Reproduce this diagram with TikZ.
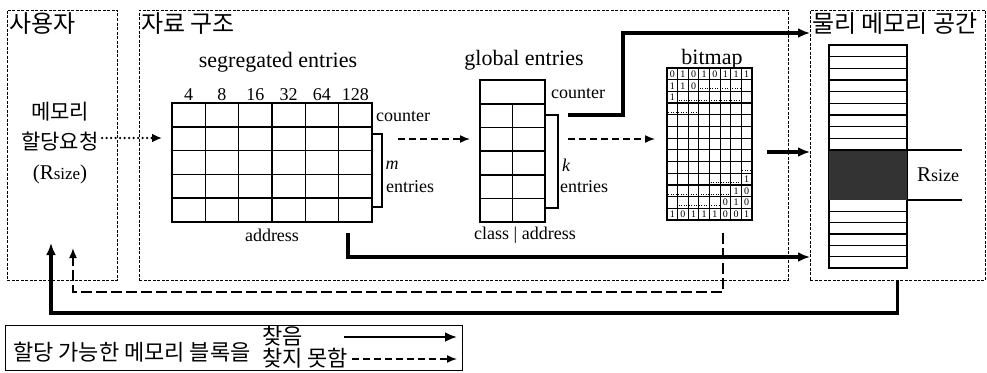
\documentclass[tikz,border=0pt]{standalone}
\usepackage{fontspec}
\setmainfont{Liberation Serif}
\newfontfamily\kr{Noto Sans CJK KR}
\usetikzlibrary{arrows.meta,calc}

\begin{document}
\begin{tikzpicture}[x=1pt,y=-1pt,
    area/.style={draw,line width=0.9pt,dash pattern=on 3pt off 1.5pt,outer sep=0pt},
    tbl/.style={draw,line width=1.6pt,outer sep=0pt},
    title/.style={font=\kr\fontsize{24}{26}\selectfont,inner sep=2pt},
    head/.style={font=\fontsize{22}{24}\selectfont},
    lbl/.style={font=\fontsize{18}{20}\selectfont,inner sep=1pt},
    bit/.style={font=\fontsize{10}{10}\selectfont,inner sep=0pt},
    hit/.style={line width=3.2pt,-{Latex[length=12pt,width=10pt]}},
    miss/.style={line width=1.5pt,dash pattern=on 7pt off 4pt,-{Latex[length=10pt,width=8pt]}},
    back/.style={line width=1.6pt,dash pattern=on 11pt off 4pt,-{Latex[length=10pt,width=8pt]}},
    req/.style={line width=2.6pt,line cap=round,dash pattern=on 0pt off 4.5pt,-{Latex[length=10pt,width=9pt]}}]
  \useasboundingbox (0,0) rectangle (987,372);

  % the three areas
  \node[area,minimum width=110pt,minimum height=270pt] (user) at (62,145) {};
  \node[area,minimum width=649pt,minimum height=270pt] (ds) at (463.5,145) {};
  \node[area,minimum width=175pt,minimum height=270pt] (phys) at (897.5,145) {};
  \node[title,anchor=north west] at (user.north west) {사용자};
  \node[title,anchor=north west] at (ds.north west) {자료 구조};
  \node[title,anchor=north west] at (phys.north west) {물리 메모리 공간};

  \node[font=\kr\fontsize{21}{30}\selectfont,align=center] (req) at (60,143)
    {메모리\\할당요청\\{\rmfamily(R{\fontsize{17}{17}\selectfont size})}};

  % segregated entries
  \node[tbl,minimum width=200pt,minimum height=119pt] (seg) at (272,162.5) {};
  \foreach \i in {1,...,5}
    \draw[tbl] ($(seg.north west)+(\i*33.33,0)$) -- ($(seg.south west)+(\i*33.33,0)$);
  \foreach \j in {1,...,4}
    \draw[tbl] ($(seg.north west)+(0,\j*23.8)$) -- ($(seg.north east)+(0,\j*23.8)$);
  \foreach \v [count=\i] in {4,8,16,32,64,128}
    \node[lbl] at ($(seg.north west)+(\i*33.33-16.67,-8)$) {\v};
  \node[head] at (278,62) {segregated entries};
  \node[lbl] at (272,235) {address};
  \node[lbl,anchor=west] at (375,117) {counter};
  \draw[line width=1.4pt] ($(seg.north east)+(0,31)$) -| ++(10,73) -- ++(-10,0);
  \node[lbl] at (392,165) {\itshape m};
  \node[lbl,anchor=west] at (385,187) {entries};

  % global entries
  \node[tbl,minimum width=65pt,minimum height=142pt] (glob) at (512.5,151) {};
  \foreach \j in {0,...,4}
    \draw[tbl] ($(glob.north west)+(0,24+\j*23.6)$) -- ($(glob.north east)+(0,24+\j*23.6)$);
  \draw[tbl] ($(glob.north)+(0,24)$) -- (glob.south);
  \node[head] at (524,60) {global entries};
  \node[lbl,anchor=west] at (550,94) {counter};
  \draw[line width=1.4pt] ($(glob.north east)+(0,35)$) -| ++(13,93) -- ++(-13,0);
  \node[lbl] at (566,165) {\itshape k};
  \node[lbl,anchor=west] at (559,187) {entries};
  \node[lbl] at (525,235) {class | address};

  % bitmap
  \node[draw,line width=1.2pt,minimum width=85pt,minimum height=152pt,outer sep=0pt] (bmp) at (709.5,144) {};
  \foreach \i in {1,...,7}
    \draw[line width=1.2pt] ($(bmp.north west)+(\i*10.625,0)$) -- ($(bmp.south west)+(\i*10.625,0)$);
  \foreach \j in {1,...,12}
    \draw[line width=1.2pt] ($(bmp.north west)+(0,\j*11.69)$) -- ($(bmp.north east)+(0,\j*11.69)$);
  \foreach \r/\c/\s in {1/1/{0,1,0,1,0,1,1,1},2/1/{1,1,0},3/1/{1},10/8/{1},11/7/{1,0},12/6/{0,1,0},13/1/{1,0,1,1,1,0,0,1}}
    \foreach \d [count=\k from \c] in \s
      \node[bit] at ($(bmp.north west)+(\k*10.625-5.31,\r*11.69-5.6)$) {\d};
  \foreach \r/\a/\b in {2/4/8,3/2/8,4/1/4,9/8/9,10/5/8,11/1/7,12/2/6}
    \draw[line width=1.1pt,dash pattern=on 1pt off 1.5pt]
      ($(bmp.north west)+(\a*10.625-9.6,\r*11.69-2.5)$) -- ($(bmp.north west)+(\b*10.625-11.6,\r*11.69-2.5)$);
  \node[head] at (712,59) {bitmap};

  % physical memory
  \node[draw,line width=1.4pt,minimum width=78pt,minimum height=223pt,outer sep=0pt] (mem) at (868,156.5) {};
  \fill[black!80] ($(mem.north west)+(0,105)$) rectangle ($(mem.north east)+(0,155)$);
  \foreach \j in {1,...,9}
    \draw[line width=1.3pt] ($(mem.north west)+(0,\j*11.67)$) -- ++(78,0);
  \foreach \j in {1,...,5}
    \draw[line width=1.3pt] ($(mem.north west)+(0,155+\j*11.33)$) -- ++(78,0);
  \draw[line width=1.2pt] ($(mem.north east)+(0,105)$) -- ++(55,0);
  \draw[line width=1.2pt] ($(mem.north east)+(0,155)$) -- ++(55,0);
  \node[lbl] at (938,175) {\fontsize{21}{21}\selectfont R\fontsize{18}{18}\selectfont size};

  % connectors
  \coordinate (toprow) at (0,33);
  \coordinate (midrow) at (0,152);
  \coordinate (lowrow) at (0,257);
  \draw[req] ($(req.east)+(0,-5)$) -- ($(seg.west)+(-10,-24.5)$);
  \draw[miss] ($(seg.east)+(26,-23.5)$) -- ($(glob.west)+(-10,-12)$);
  \draw[miss] ($(glob.east)+(23,-12)$) -- ($(bmp.west)+(-12,-5)$);
  \draw[hit] ($(glob.north east)+(23,35)$) -| ++(55,-82) -- (phys.west |- toprow);
  \draw[hit] ($(bmp.east)+(15,8)$) -- (phys.west |- midrow);
  \draw[hit] ($(seg.south)+(76,11)$) |- (phys.west |- lowrow);
  \draw[back] ($(bmp.south)+(13.5,13)$) -- ++(0,59) -| ($(user.south)+(11,-32)$);
  \draw[hit] (phys.south) -- ++(0,33) -| ($(user.south)+(-11,-37)$);

  % legend
  \node[draw,line width=0.8pt,minimum width=457pt,minimum height=45pt,outer sep=0pt] (legend) at (233.5,347.5) {};
  \node[font=\kr\fontsize{22}{24}\selectfont] (lgtxt) at (132,352) {할당 가능한 메모리 블록을};
  \node[font=\kr\fontsize{22}{24}\selectfont,anchor=west,inner sep=1pt] (found) at (261,336) {찾음};
  \node[font=\kr\fontsize{22}{24}\selectfont,anchor=west,inner sep=1pt] (notfound) at (261,358) {찾지 못함};
  \draw[hit,line width=2.4pt,shorten >=5pt] ($(found.east)+(40,1)$) -- ($(found.east -| legend.east)+(0,1)$);
  \draw[miss,shorten >=5pt] ($(notfound.east)+(3,1)$) -- ($(notfound.east -| legend.east)+(0,1)$);
\end{tikzpicture}
\end{document}
